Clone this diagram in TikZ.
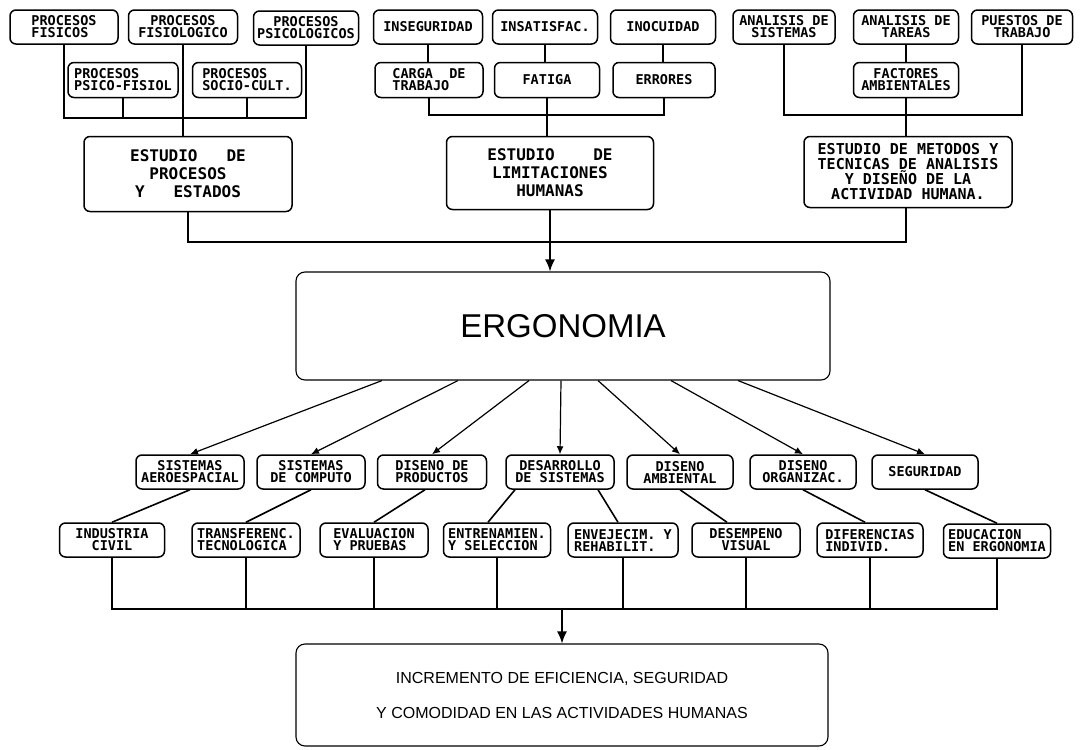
\documentclass[tikz,border=0pt]{standalone}
\usepackage{fontspec}
\setmainfont{Liberation Sans}
\newfontfamily\dotfont{DejaVu Sans Mono}
\usetikzlibrary{calc,arrows.meta}
\tikzset{
  box/.style={draw, line width=1.5pt, rounded corners=6pt, minimum height=34pt, inner sep=1pt,
    align=center, font=\dotfont\bfseries\fontsize{13.5}{12}\selectfont},
  boxl/.style={box, align=left},
  study/.style={box, font=\dotfont\bfseries\fontsize{16}{18}\selectfont},
  main/.style={draw, line width=1.1pt, rounded corners=9pt, align=center},
  link/.style={draw, line width=1.6pt},
  spoke/.style={draw, line width=1.2pt},
  bigtip/.style={-{Latex[length=12pt,width=10pt]}},
  tip/.style={-{Latex[length=8pt,width=7pt]}},
}
\begin{document}
\begin{tikzpicture}[x=1pt,y=-1pt]
  \useasboundingbox (0,0) rectangle (1080,750);
  % procesos y estados
  \node[boxl, minimum width=108pt] (pfis) at (64,27) {PROCESOS\\FISICOS};
  \node[box, minimum width=109pt] (pfisio) at (183,27) {PROCESOS\\FISIOLOGICO};
  \node[box, minimum width=105pt] (psico) at (306,28) {PROCESOS\\PSICOLOGICOS};
  \node[boxl, minimum width=110pt, minimum height=35pt] (psicofis) at (123,80) {PROCESOS\\PSICO-FISIOL};
  \node[boxl, minimum width=109pt, minimum height=35pt] (socio) at (247,80) {PROCESOS\\SOCIO-CULT.};
  \node[study, minimum width=208pt, minimum height=75pt] (estproc) at (188,174) {ESTUDIO~~~DE\\PROCESOS\\Y~~~ESTADOS};
  % limitaciones humanas
  \node[box, minimum width=109pt] (inseg) at (428,27) {INSEGURIDAD};
  \node[box, minimum width=105pt] (insat) at (545,27) {INSATISFAC.};
  \node[box, minimum width=105pt] (inocu) at (663,27) {INOCUIDAD};
  \node[boxl, minimum width=108pt, minimum height=35pt] (carga) at (429,80) {CARGA~~DE\\TRABAJO};
  \node[box, minimum width=105pt, minimum height=35pt] (fatiga) at (547,80) {FATIGA};
  \node[box, minimum width=102pt, minimum height=35pt] (errores) at (664,80) {ERRORES};
  \node[study, minimum width=207pt, minimum height=73pt] (estlim) at (550,173) {ESTUDIO~~~~DE\\LIMITACIONES\\HUMANAS};
  % metodos y tecnicas
  \node[box, minimum width=102pt] (asis) at (784,27) {ANALISIS DE\\SISTEMAS};
  \node[box, minimum width=105pt] (atar) at (906,27) {ANALISIS DE\\TAREAS};
  \node[box, minimum width=101pt] (puestos) at (1022,27) {PUESTOS DE\\TRABAJO};
  \node[box, minimum width=105pt, minimum height=35pt] (factores) at (906,80) {FACTORES\\AMBIENTALES};
  \node[study, minimum width=208pt, minimum height=71pt,
    font=\dotfont\bfseries\fontsize{15}{15}\selectfont] (estmet) at (908,172)
    {ESTUDIO DE METODOS Y\\TECNICAS DE ANALISIS\\Y DISEÑO DE LA\\ACTIVIDAD HUMANA.};

  \coordinate (busP) at (0,118);
  \coordinate (busL) at (0,115);
  \coordinate (busE) at (0,242);
  \draw[link] (pfis.south) |- (busP -| psico.south) -- (psico.south);
  \draw[link] (psicofis.south) -- (psicofis.south |- busP);
  \draw[link] (socio.south) -- (socio.south |- busP);
  \draw[link] (pfisio.south) -- (pfisio.south |- estproc.north);
  \draw[link] (inseg.south) -- (inseg.south |- carga.north);
  \draw[link] (insat.south) -- (insat.south |- fatiga.north);
  \draw[link] (inocu.south) -- (inocu.south |- errores.north);
  \draw[link] (carga.south) |- (busL -| errores.south) -- (errores.south);
  \draw[link] (fatiga.south) -- (fatiga.south |- estlim.north);
  \draw[link] (asis.south) |- (busL -| puestos.south) -- (puestos.south);
  \draw[link] (atar.south) -- (factores.north);
  \draw[link] (factores.south) -- (factores.south |- estmet.north);
  \draw[link] (estproc.south) |- (busE -| factores.south) -- (factores.south |- estmet.south);

  % ergonomia
  \node[main, minimum width=534pt, minimum height=108pt, font=\fontsize{33}{36}\selectfont] (ergo) at (563,326) {ERGONOMIA};
  \draw[link, bigtip] (estlim.south) -- (estlim.south |- ergo.north);

  % areas
  \node[box, minimum width=108pt] (aero) at (190,472) {SISTEMAS\\AEROESPACIAL};
  \node[box, minimum width=108pt] (comp) at (311,472) {SISTEMAS\\DE COMPUTO};
  \node[box, minimum width=109pt] (prod) at (432,472) {DISENO DE\\PRODUCTOS};
  \node[box, minimum width=108pt] (desa) at (560,472) {DESARROLLO\\DE SISTEMAS};
  \node[box, minimum width=106pt] (amb) at (680,472) {DISENO\\AMBIENTAL};
  \node[box, minimum width=106pt] (org) at (803,472) {DISENO\\ORGANIZAC.};
  \node[box, minimum width=106pt] (segu) at (925,472) {SEGURIDAD};
  \foreach \n/\dx in {aero/-181,comp/-105,prod/-34,desa/-2,amb/35,org/108,segu/175}
    \draw[spoke, tip] ($(ergo.south)+(\dx,0)$) -- (\n.north);

  \node[box, minimum width=105pt] (indu) at (112,540) {INDUSTRIA\\CIVIL};
  \node[boxl, minimum width=108pt] (trans) at (246,540) {TRANSFERENC.\\TECNOLOGICA};
  \node[boxl, minimum width=108pt] (eval) at (374,540) {EVALUACION\\Y PRUEBAS};
  \node[boxl, minimum width=107pt] (entr) at (497,540) {ENTRENAMIEN.\\Y SELECCION};
  \node[boxl, minimum width=110pt] (enve) at (623,540) {ENVEJECIM. Y\\REHABILIT.};
  \node[box, minimum width=108pt] (dese) at (746,540) {DESEMPENO\\VISUAL};
  \node[boxl, minimum width=106pt] (dife) at (870,540) {DIFERENCIAS\\INDIVID.};
  \node[boxl, minimum width=107pt] (educ) at (997,541) {EDUCACION\\EN ERGONOMIA};
  \draw[link] (aero.south) -- (indu.north);
  \draw[link] (comp.south) -- (trans.north);
  \draw[link] ($(prod.south)+(-7,0)$) -- (eval.north);
  \draw[link] ($(desa.south)+(-45,0)$) -- ($(entr.north)+(-9,0)$);
  \draw[link] ($(desa.south)+(38,0)$) -- ($(enve.north)+(-5,0)$);
  \draw[link] (amb.south) -- ($(dese.north)+(-19,0)$);
  \draw[link] (org.south) -- ($(dife.north)+(-5,0)$);
  \draw[link] (segu.south) -- (educ.north);

  % resultado
  \node[main, minimum width=532pt, minimum height=102pt, font=\fontsize{16}{35}\selectfont] (incr) at (562,695)
    {INCREMENTO DE EFICIENCIA, SEGURIDAD\\Y COMODIDAD EN LAS ACTIVIDADES HUMANAS};
  \coordinate (busR) at (0,609);
  \draw[link] (indu.south) |- (busR -| educ.south) -- (educ.south);
  \foreach \n in {trans,eval,entr,enve,dese,dife}
    \draw[link] (\n.south) -- (\n.south |- busR);
  \draw[link, bigtip] (busR -| incr.north) -- (incr.north);
\end{tikzpicture}
\end{document}
